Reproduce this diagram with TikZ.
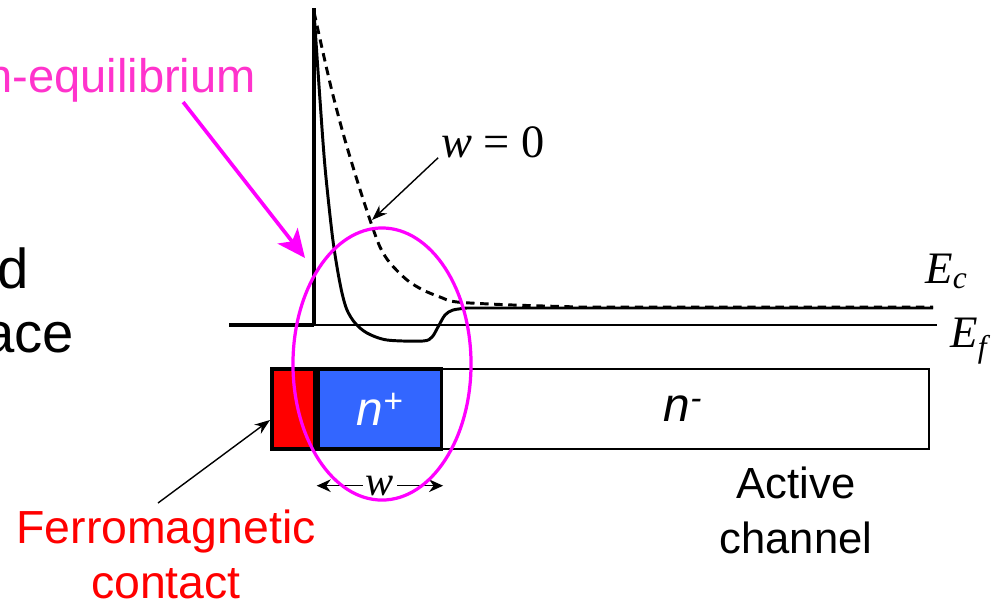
\documentclass[tikz,border=0pt]{standalone}
\usepackage{fontspec}
\setmainfont{Liberation Sans}
\newfontfamily\tmsfont{Liberation Serif}
\usetikzlibrary{arrows.meta}
\definecolor{neqpink}{HTML}{FF33CC}
\definecolor{ringpink}{HTML}{FF00FF}
\definecolor{fmred}{HTML}{FF0000}
\definecolor{npblue}{HTML}{3366FF}
\tikzset{
  lbl/.style={inner sep=0pt, font=\fontsize{31}{39}\selectfont},
  biglbl/.style={inner sep=0pt, font=\fontsize{40}{48}\selectfont},
  tmslbl/.style={inner sep=0pt, font=\tmsfont\itshape\fontsize{30}{34}\selectfont},
  band/.style={line width=2.1pt},
  layer/.style={draw, line width=2.4pt, minimum height=2cm, inner sep=0pt},
  ptr/.style={-{Stealth[length=11pt,width=8pt]}, line width=1pt},
}
\begin{document}
\begin{tikzpicture}[x=0.025cm, y=-0.025cm]
    \useasboundingbox (0,0) rectangle (1004,601);
    % cut-off labels on the left
    \node[lbl, anchor=base west, text=neqpink, font=\fontsize{33.5}{39}\selectfont] (neq) at (-14,92) {n-equilibrium};
    \node[biglbl, anchor=base east] (lefta) at (29,288) {d};
    \node[biglbl, anchor=base east] (leftb) at (74,352) {ace};
    % band diagram
    \draw[line width=2.5pt] (229,325) -- (314,325);
    \draw[line width=2.5pt] (314,8) -- (314,325);
    \draw[line width=1.3pt] (314,325) -- (937,325);
    \draw[band] plot[smooth, tension=0.5] coordinates {(314,12) (320,100) (325,167) (332,233) (337,267) (342,293) (347,310) (355,323) (367,333) (387,340) (423,341) (432,337) (438,327) (445,315) (453,310) (467,308)} -- (933,308);
    \draw[band, dash pattern=on 6pt off 4pt] plot[smooth, tension=0.5] coordinates {(314,12) (330,83) (343,133) (357,180) (370,220) (380,247) (390,263) (407,280) (423,290) (440,297) (457,302) (513,305) (580,307)} -- (933,307);
    \node[tmslbl, anchor=base west, font=\tmsfont\itshape\fontsize{32}{36}\selectfont] (ec) at (925,283) {E\textsubscript{c}};
    \node[tmslbl, anchor=base west, font=\tmsfont\itshape\fontsize{32}{36}\selectfont] (ef) at (950,347) {E\textsubscript{f}};
    \node[tmslbl, anchor=base, font=\tmsfont\itshape\fontsize{33}{36}\selectfont] (wzero) at (493,157) {w {\upshape = 0}};
    \coordinate (wtip) at (372,220);
    \draw[ptr] ([xshift=-2pt]wzero.south west) -- (wtip);
    % device layers
    \node[layer, line width=1.3pt, minimum width=12.25cm, anchor=west] (nminus) at (438,409) {};
    \node[layer, fill=fmred, minimum width=1.075cm] (fm) at (293.5,409) {};
    \node[layer, fill=npblue, minimum width=3.075cm, anchor=west, text=white, font=\fontsize{34}{40}\selectfont] (nplus) at (fm.east) {\itshape n\textsuperscript{+}};
    \node[font=\fontsize{34}{40}\selectfont] (nmlbl) at (683,409) {\itshape n\textsuperscript{-}};
    \draw[{Stealth[length=10pt,width=9pt]}-{Stealth[length=10pt,width=9pt]}, line width=1.1pt] ([yshift=-0.875cm]nplus.south west) -- node[tmslbl, fill=white, inner sep=2pt] (wdim) {w} ([yshift=-0.875cm]nplus.south east);
    % non-equilibrium region
    \draw[ringpink, line width=2.3pt] (382,364) ellipse [x radius=2.225cm, y radius=3.4cm];
    \coordinate (neqtip) at (305,258);
    \draw[ringpink, line width=2.6pt, -{Stealth[length=20pt,width=18pt,inset=5pt]}] ([xshift=1.55cm]neq.south) -- (neqtip);
    % lower labels
    \node[lbl, anchor=north, text=fmred, align=center, font=\fontsize{33}{39}\selectfont] (fmc) at (166,510) {Ferromagnetic\\contact};
    \coordinate (fmtip) at (270,420);
    \draw[ptr] ([shift={(-8,-7)}]fmc.north) -- (fmtip);
    \node[lbl, anchor=north, align=center] (act) at (796,467) {Active\\channel};
\end{tikzpicture}
\end{document}
